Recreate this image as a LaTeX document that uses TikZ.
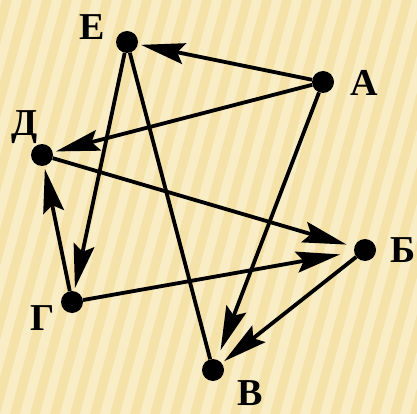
\documentclass[tikz,border=0pt]{standalone}
\usepackage{fontspec}
\setmainfont{Liberation Serif}
\usetikzlibrary{arrows.meta}
\definecolor{bgdark}{HTML}{F5E2A9}
\definecolor{bglight}{HTML}{F9EDC6}
\tikzset{
  dot/.style={circle, fill=black, minimum size=22pt, inner sep=0pt},
  lbl/.style={font=\fontsize{38}{40}\selectfont\bfseries},
  edge/.style={line width=3.8pt, shorten >=3pt},
  arr/.style={edge, -{Stealth[length=44pt,width=21pt,inset=7pt]}}
}
\begin{document}
\begin{tikzpicture}[x=1pt,y=-1pt]
  \fill[bgdark] (0,0) rectangle (417,414);
  \begin{scope}
    \clip (0,0) rectangle (417,414);
    \foreach \s in {-140,-120,...,420} {
      \fill[bglight] (\s,414) -- (\s+10,414) -- (\s+122,0) -- (\s+112,0) -- cycle;
    }
  \end{scope}
  \useasboundingbox (0,0) rectangle (417,414);
  \node[dot] (e) at (127,42) {};
  \node[dot] (a) at (323,82) {};
  \node[dot] (d) at (42,155) {};
  \node[dot] (b) at (365,250) {};
  \node[dot] (g) at (72,302) {};
  \node[dot] (v) at (213,370) {};
  \node[lbl] at (92,27) {Е};
  \node[lbl] at (364,83) {А};
  \node[lbl] at (25,127) {Д};
  \node[lbl] at (403,250) {Б};
  \node[lbl] at (43,318) {Г};
  \node[lbl] at (250,393) {В};
  \draw[arr] (a) -- (e);
  \draw[arr] (a) -- (d);
  \draw[arr, shorten >=10pt] (a) -- (v);
  \draw[arr] (e) -- (g);
  \draw[edge, shorten >=0pt] (e) -- (v);
  \draw[arr, shorten >=8pt] (d) -- (b);
  \draw[arr, shorten >=14pt] (g) -- (b);
  \draw[arr] (b) -- (v);
  \draw[arr] (g) -- (d);
\end{tikzpicture}
\end{document}
